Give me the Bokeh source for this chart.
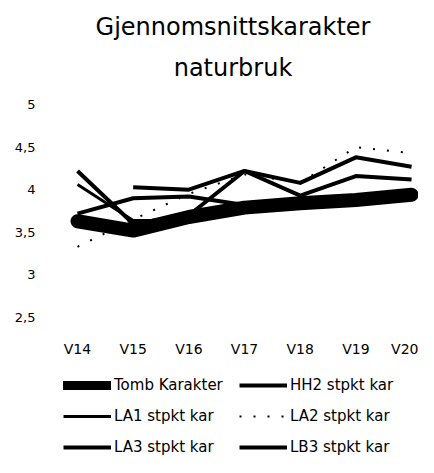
import numpy as np
from bokeh.plotting import figure
from bokeh.layouts import column
from bokeh.models import FixedTicker, Legend, LegendItem, Title, Range1d
from bokeh.embed import file_html
from bokeh.resources import INLINE

categories = ["V14", "V15", "V16", "V17", "V18", "V19", "V20"]
tomb_karakter = [3.63, 3.52, 3.68, 3.79, 3.84, 3.88, 3.94]
hh2_stpkt = [4.22, 3.60, 3.70, 4.22, 4.08, 4.38, 4.27]
la1_stpkt = [4.06, 3.64, 3.64, 3.78, 3.84, 3.92, 3.98]
la2_stpkt = [3.33, 3.65, 3.95, 4.18, 4.08, 4.50, 4.43]
la3_stpkt = [3.72, 3.90, 3.92, 3.82, 3.82, 3.90, 3.97]
lb3_stpkt = [np.nan, 4.03, 4.00, 4.22, 3.93, 4.16, 4.12]
series_names = ["Tomb Karakter", "HH2 stpkt kar", "LA1 stpkt kar",
                "LA2 stpkt kar", "LA3 stpkt kar", "LB3 stpkt kar"]
y_ticks = [2.5, 3, 3.5, 4, 4.5, 5]
y_tick_labels = ["2,5", "3", "3,5", "4", "4,5", "5"]

xs = list(range(len(categories)))
FONT = "DejaVu Sans"

p = figure(frame_width=371, frame_height=231, output_backend="svg", toolbar_location=None,
           x_range=Range1d(-0.539, 6.125), y_range=Range1d(2.383, 5.094),
           min_border_left=47, min_border_right=0, min_border_top=96,
           min_border_bottom=30)
p.outline_line_color = None
p.xgrid.grid_line_color = None
p.ygrid.grid_line_color = None
p.background_fill_color = None

for ax in (p.xaxis, p.yaxis):
    ax.axis_line_color = None
    ax.major_tick_line_color = None
    ax.minor_tick_line_color = None
    ax.major_label_text_font = FONT
    ax.major_label_text_color = "black"

p.yaxis.ticker = FixedTicker(ticks=y_ticks)
p.yaxis.major_label_overrides = {t: l for t, l in zip(y_ticks, y_tick_labels)}
p.yaxis.major_label_standoff = 6
p.yaxis.major_label_text_font_size = "13px"
p.xaxis.ticker = FixedTicker(ticks=xs)
p.xaxis.major_label_overrides = {i: c for i, c in enumerate(categories)}
p.xaxis.major_label_standoff = 7
p.xaxis.major_label_text_font_size = "14px"

styles = [
    dict(line_width=14, line_cap="round", line_join="round"),
    dict(line_width=4, line_join="round"),
    dict(line_width=3, line_join="round"),
    dict(line_width=2, line_dash="2 12"),
    dict(line_width=4, line_join="round"),
    dict(line_width=4, line_join="round"),
]
data = [tomb_karakter, hh2_stpkt, la1_stpkt, la2_stpkt, la3_stpkt, lb3_stpkt]
draw_order = [0, 4, 2, 3, 5, 1]
for i in draw_order:
    p.line(xs, data[i], line_color="black", **styles[i])

p.add_layout(Title(text="naturbruk", align="center", text_font=FONT, offset=-20,
                   text_color="black", text_font_size="24px", text_font_style="normal",
                   standoff=30), "above")
p.add_layout(Title(text="Gjennomsnittskarakter", align="center", text_font=FONT, offset=-20,
                   text_color="black", text_font_size="24px", text_font_style="normal",
                   standoff=-8), "above")

# legend panel below the chart
p2 = figure(width=418, height=100, output_backend="svg", toolbar_location=None,
            x_range=Range1d(0, 1), y_range=Range1d(0, 1),
            x_axis_location=None, y_axis_location=None, min_border=0)
p2.outline_line_color = None
p2.xgrid.grid_line_color = None
p2.ygrid.grid_line_color = None

legend_styles = [dict(s) for s in styles]
legend_styles[0]["line_width"] = 9
items = []
for name, st in zip(series_names, legend_styles):
    r = p2.line([np.nan], [np.nan], line_color="black", **st)
    items.append(LegendItem(label=name, renderers=[r]))

lg = Legend(items=items, orientation="horizontal", ncols=2, location=(16, 2))
lg.border_line_color = None
lg.background_fill_alpha = 0
lg.glyph_width = 48
lg.glyph_height = 20
lg.label_height = 20
lg.label_text_font = FONT
lg.label_text_color = "black"
lg.label_text_font_size = "15px"
lg.label_width = 114
lg.label_standoff = 3
lg.spacing = 11
lg.padding = 0
lg.margin = 0
p2.add_layout(lg, "center")

layout = column(p, p2, spacing=0)
open("out.html", "w").write(file_html(layout, INLINE))
